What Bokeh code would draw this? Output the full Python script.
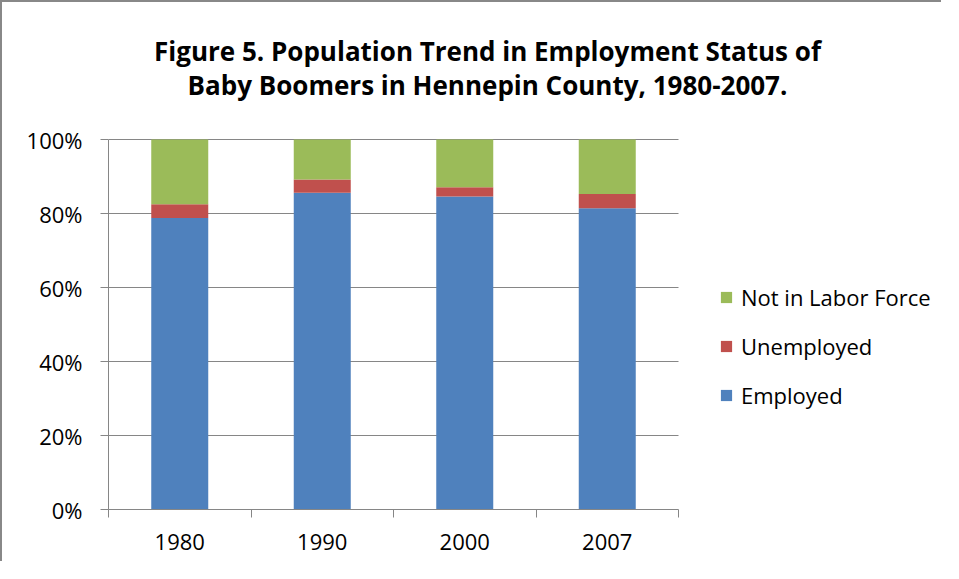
from bokeh.plotting import figure
from bokeh.models import (Range1d, LinearAxis, FixedTicker, NumeralTickFormatter,
                          Legend, LegendItem, Label, ColumnDataSource)
from bokeh.embed import file_html
from bokeh.resources import INLINE

# ---- data ----
years = ["1980", "1990", "2000", "2007"]
employed = [0.788, 0.856, 0.846, 0.814]
unemployed = [0.037, 0.036, 0.025, 0.039]
not_in_labor_force = [0.175, 0.108, 0.129, 0.147]
series = ["Employed", "Unemployed", "Not in Labor Force"]
y_ticks = [0, 0.2, 0.4, 0.6, 0.8, 1.0]
title_lines = ["Figure 5. Population Trend in Employment Status of",
               "Baby Boomers in Hennepin County, 1980-2007."]

# ---- layout / style ----
colors = ["#4F81BD", "#C0504D", "#9BBB59"]
GRAY = "#868686"
FONT = "Open Sans"
W, H = 941, 561
LEFT, BOTTOM = 106, 54          # canvas px outside the plot area
PLOT_W, PLOT_TOP = 570, 137     # plot-area width; y px of the 100% line
TITLE_BASELINES = [48.5, 82.0]  # canvas px
TITLE_CENTER_X = 379            # px right of plot-area left edge
LEGEND_LEFT, LEGEND_BOTTOM = 611, 408
n = len(years)
frame_w = W - LEFT
frame_h = H - BOTTOM
px_per_x = PLOT_W / n
px_per_y = frame_h - PLOT_TOP
x_end = frame_w / px_per_x
y_end = frame_h / px_per_y

x_pos = [i + 0.5 for i in range(n)]
source = ColumnDataSource(dict(x=x_pos, Employed=employed, Unemployed=unemployed,
                               **{"Not in Labor Force": not_in_labor_force}))

p = figure(x_range=Range1d(0, x_end), y_range=Range1d(0, y_end),
           width=W, height=H, output_backend="svg", toolbar_location=None,
           x_axis_location=None, min_border_left=LEFT, min_border_right=0,
           min_border_top=0, min_border_bottom=BOTTOM)
p.title.visible = False
p.outline_line_color = None
p.background_fill_color = "white"
p.border_fill_color = "white"
p.xgrid.visible = False
p.ygrid.visible = False
p.styles = {"border-left": "2px solid #888888", "border-top": "2px solid #888888"}

# horizontal gridlines across the plot area only
p.segment(x0=0, x1=n, y0=y_ticks[1:], y1=y_ticks[1:], line_color=GRAY, line_width=1)

renderers = p.vbar_stack(series, x="x", width=0.4, color=colors, source=source,
                         line_color=None)

# y axis
yax = p.yaxis[0]
yax.bounds = (0, 1)
yax.ticker = FixedTicker(ticks=y_ticks)
yax.formatter = NumeralTickFormatter(format="0%")
yax.major_tick_out = 8
yax.major_tick_in = 0
yax.minor_tick_line_color = None
yax.axis_line_color = GRAY
yax.major_tick_line_color = GRAY
yax.major_label_text_font = FONT
yax.major_label_text_font_size = "22px"
yax.major_label_text_color = "black"
yax.major_label_standoff = 18

# x tick axis (ticks at category boundaries)
tax = LinearAxis(bounds=(0, n), ticker=FixedTicker(ticks=list(range(n + 1))),
                 major_tick_out=8, major_tick_in=0, minor_tick_line_color=None,
                 axis_line_color=GRAY, major_tick_line_color=GRAY,
                 major_label_text_font_size="0px", major_label_standoff=0)
p.add_layout(tax, "below")
# category labels
cax = LinearAxis(bounds=(0, n), ticker=FixedTicker(ticks=x_pos),
                 major_label_overrides={x: y for x, y in zip(x_pos, years)},
                 axis_line_color=None, major_tick_line_color=None,
                 minor_tick_line_color=None, major_tick_out=0, major_tick_in=0,
                 major_label_text_font=FONT, major_label_text_font_size="22px",
                 major_label_text_color="black", major_label_standoff=16)
p.add_layout(cax, "below")

# title
for line, bpx in zip(title_lines, TITLE_BASELINES):
    p.add_layout(Label(x=TITLE_CENTER_X / px_per_x, y=(frame_h - bpx) / px_per_y,
                       text=line, text_align="center", text_baseline="alphabetic",
                       text_font=FONT, text_font_style="bold",
                       text_font_size="26px", text_color="black"))

# legend
items = [LegendItem(label=s, renderers=[r]) for s, r in zip(series, renderers)][::-1]
legend = Legend(items=items, location=(LEGEND_LEFT, frame_h - LEGEND_BOTTOM),
                orientation="vertical",
                glyph_width=14, glyph_height=14, label_height=20, spacing=19,
                label_standoff=8, padding=0, margin=0,
                border_line_color=None, background_fill_alpha=0,
                label_text_font=FONT, label_text_font_size="22px", label_text_color="black")
p.add_layout(legend, "center")

open("out.html", "w").write(file_html(p, INLINE))
